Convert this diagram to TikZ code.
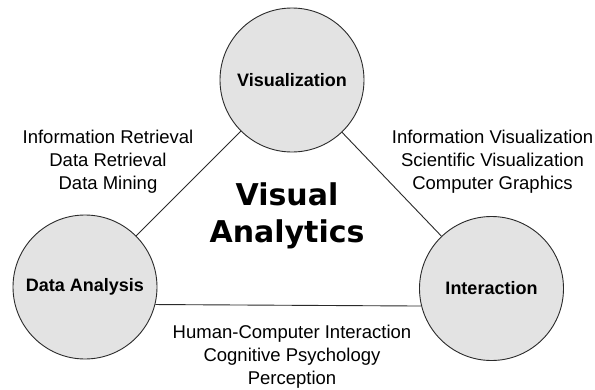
\documentclass[tikz,border=0pt]{standalone}
\usepackage{fontspec}
\setmainfont{Liberation Sans}
\newfontfamily\dejabold{DejaVu Sans}[BoldFont={DejaVu Sans Bold}]
\definecolor{circfill}{HTML}{E3E3E3}
\definecolor{edgecol}{HTML}{2A2A2A}
\begin{document}
\begin{tikzpicture}[x=1pt,y=-1pt,
  topic/.style={circle,draw=edgecol,line width=0.9pt,fill=circfill,minimum size=144pt,inner sep=0pt,font=\fontsize{18}{22}\selectfont\bfseries},
  link/.style={draw=edgecol,line width=0.9pt},
  field/.style={align=center,inner sep=0pt,font=\fontsize{18.5}{22.7}\selectfont}]
\useasboundingbox[fill=white] (0,0) rectangle (595,389);
\node[topic] (vis) at (292,80) {Visualization};
\node[topic] (da) at (85,287) {Data Analysis};
\node[topic] (int) at (491.5,288.5) {Interaction};
\draw[link] (vis) -- (da);
\draw[link] (vis) -- (int);
\draw[link] (da.-14.5) -- (int.194.5);
\node[align=center,inner sep=0pt,font=\dejabold\bfseries\fontsize{30}{37}\selectfont,anchor=base] (va) at (287,242) {Visual\\Analytics};
\node[field,anchor=base] (left) at (108,189) {Information Retrieval\\Data Retrieval\\Data Mining};
\node[field,anchor=base] (right) at (492.5,189) {Information Visualization\\Scientific Visualization\\Computer Graphics};
\node[field,anchor=base] (bottom) at (292,384.3) {Human-Computer Interaction\\Cognitive Psychology\\Perception};
\end{tikzpicture}
\end{document}
